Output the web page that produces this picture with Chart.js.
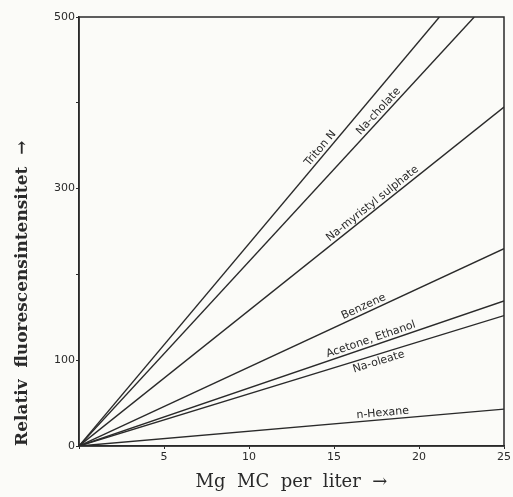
<!DOCTYPE html>
<html>
<head>
<meta charset="utf-8">
<script src="https://cdn.jsdelivr.net/npm/chart.js@4.4.1/dist/chart.umd.min.js"></script>
<style>
    html, body { margin: 0; padding: 0; background: #fbfbf8; }
    #wrap { width: 513px; height: 497px; }
</style>
</head>
<body>
<div id="wrap"><canvas id="myChart"></canvas></div>
<script>
// every line starts at the origin and ends at (endX, endY)
const seriesNames = [
    'Triton N',
    'Na-cholate',
    'Na-myristyl sulphate',
    'Benzene',
    'Acetone, Ethanol',
    'Na-oleate',
    'n-Hexane'
];
const endX = [21.2, 23.25, 25, 25, 25, 25, 25];
const endY = [500, 500, 395, 230, 169, 152, 43];

// where along each line its name is written (x in mg), and which side
const labelAt = [14.5, 17.9, 17.5, 16.9, 17.3, 17.5, 17.9];
const labelSide = ['above', 'above', 'above', 'above', 'above', 'below', 'above'];

const yTickLabels = [0, 100, 300, 500];

const ink = '#2a2a2a';

const datasets = seriesNames.map((name, i) => ({
    label: name,
    data: [{x: 0, y: 0}, {x: endX[i], y: endY[i]}],
    borderColor: ink,
    borderWidth: 1.4,
    pointRadius: 0,
    fill: false
}));

// names written along the lines
const lineLabels = {
    id: 'lineLabels',
    afterDatasetsDraw(chart) {
        const ctx = chart.ctx;
        const xs = chart.scales.x, ys = chart.scales.y;
        ctx.save();
        ctx.font = '11px "DejaVu Sans"';
        ctx.fillStyle = ink;
        ctx.textAlign = 'center';
        seriesNames.forEach((name, i) => {
            const x0 = xs.getPixelForValue(0), y0 = ys.getPixelForValue(0);
            const x1 = xs.getPixelForValue(endX[i]), y1 = ys.getPixelForValue(endY[i]);
            const ang = Math.atan2(y1 - y0, x1 - x0);
            const lx = labelAt[i];
            const px = xs.getPixelForValue(lx);
            const py = ys.getPixelForValue(endY[i] / endX[i] * lx);
            ctx.save();
            ctx.translate(px, py);
            ctx.rotate(ang);
            if (labelSide[i] === 'below') {
                ctx.textBaseline = 'top';
                ctx.fillText(name, 0, 2);
            } else {
                ctx.textBaseline = 'bottom';
                ctx.fillText(name, 0, -1);
            }
            ctx.restore();
        });
        ctx.restore();
    }
};

// closed frame round the plot
const frame = {
    id: 'frame',
    beforeDatasetsDraw(chart) {
        const a = chart.chartArea;
        const ctx = chart.ctx;
        ctx.save();
        ctx.strokeStyle = ink;
        ctx.lineWidth = 1.5;
        ctx.strokeRect(a.left, a.top, a.right - a.left, a.bottom - a.top);
        ctx.restore();
    }
};

const bg = {
    id: 'bg',
    beforeDraw(chart) {
        const ctx = chart.ctx;
        ctx.save();
        ctx.fillStyle = '#fbfbf8';
        ctx.fillRect(0, 0, chart.width, chart.height);
        ctx.restore();
    }
};

const config = {
    type: 'line',
    data: { datasets: datasets },
    options: {
        responsive: true,
        maintainAspectRatio: false,
        animation: false,
        layout: { padding: { top: 17, right: 6, left: 0, bottom: 0 } },
        plugins: {
            legend: { display: false },
            tooltip: { enabled: false }
        },
        scales: {
            x: {
                type: 'linear',
                min: 0,
                max: 25,
                afterFit: (s) => { s.height = 51; },
                border: { color: ink, width: 1.5 },
                grid: { drawOnChartArea: false, tickLength: 3, color: ink },
                ticks: {
                    stepSize: 5,
                    color: ink,
                    font: { family: 'DejaVu Sans', size: 11 },
                    padding: 2,
                    callback: (v) => v === 0 ? '' : v
                },
                title: {
                    display: true,
                    text: 'Mg  MC  per  liter  \u2192',
                    color: ink,
                    font: { family: 'DejaVu Serif', size: 18 },
                    padding: { top: 10 }
                }
            },
            y: {
                min: 0,
                max: 500,
                afterFit: (s) => { s.width = 79; },
                border: { color: ink, width: 1.5 },
                grid: { drawOnChartArea: false, tickLength: 3, color: ink },
                ticks: {
                    stepSize: 100,
                    color: ink,
                    font: { family: 'DejaVu Sans', size: 11 },
                    padding: 1,
                    callback: (v) => yTickLabels.includes(v) ? v : ''
                },
                title: {
                    display: true,
                    text: 'Relativ  fluorescensintensitet  \u2192',
                    align: 'start',
                    color: ink,
                    font: { family: 'DejaVu Serif', size: 17, weight: 'bold' },
                    padding: { top: 12, bottom: 4 }
                }
            }
        }
    },
    plugins: [bg, frame, lineLabels]
};

const myChart = new Chart(document.getElementById('myChart'), config);
</script>
</body>
</html>
